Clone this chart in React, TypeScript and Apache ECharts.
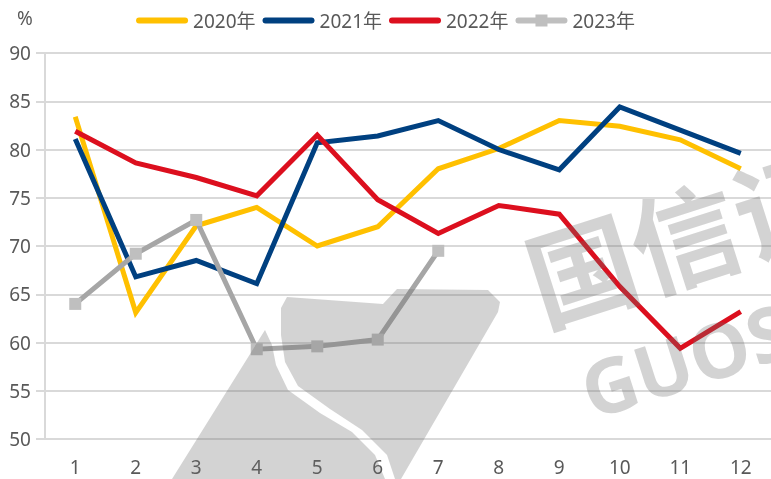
import React, { useEffect, useRef } from "react";
import * as echarts from "echarts";

const months = ["1", "2", "3", "4", "5", "6", "7", "8", "9", "10", "11", "12"];
const seriesNames = ["2020年", "2021年", "2022年", "2023年"];
const y2020 = [83.4, 63.1, 72.1, 74.0, 70.0, 72.0, 78.0, 80.1, 83.0, 82.4, 81.0, 78.0];
const y2021 = [81.1, 66.8, 68.5, 66.1, 80.7, 81.4, 83.0, 80.0, 77.9, 84.4, 82.0, 79.6];
const y2022 = [81.9, 78.6, 77.1, 75.2, 81.5, 74.8, 71.3, 74.2, 73.3, 65.8, 59.4, 63.2];
const y2023 = [64.0, 69.2, 72.7, 59.3, 59.6, 60.3, 69.5];
const colors = ["#FFC000", "#004080", "#DC0F1E", "#A6A6A6"];

const FONT = "'Noto Sans', 'Noto Sans CJK SC', sans-serif";
const WM = "rgba(110,110,110,0.3)";
const LINE_ICON = "path://M3,0h46a3,3 0 0 1 0,6h-46a3,3 0 0 1 0,-6z";
const MARK_ICON = "path://M3,3h46a3,3 0 0 1 0,6h-46a3,3 0 0 1 0,-6z M20,0h12v12h-12z";

export default function App() {
  const ref = useRef<HTMLDivElement>(null);
  useEffect(() => {
    if (!ref.current) return;
    const chart = echarts.init(ref.current, null, { renderer: "svg" });
    const data = [y2020, y2021, y2022, y2023];
    chart.setOption({
      animation: false,
      textStyle: { fontFamily: FONT },
      legend: {
        top: 6,
        left: "center",
        itemWidth: 52,
        itemHeight: 12,
        itemGap: 7,
        textStyle: { color: "#595959", fontSize: 19, fontFamily: FONT },
        data: seriesNames.map((name, i) => ({ name, icon: i === 3 ? MARK_ICON : LINE_ICON })),
      },
      grid: { left: 45, right: 0, top: 53, bottom: 40, containLabel: false },
      xAxis: {
        type: "category",
        data: months,
        boundaryGap: true,
        axisLine: { lineStyle: { color: "#D9D9D9", width: 2 } },
        axisTick: { show: false },
        axisLabel: { color: "#595959", fontSize: 19, margin: 18, fontFamily: FONT },
      },
      yAxis: {
        type: "value",
        min: 50,
        max: 90,
        interval: 5,
        axisLine: { show: true, lineStyle: { color: "#D9D9D9", width: 2 } },
        axisTick: { show: true, length: 9, lineStyle: { color: "#D9D9D9", width: 2 } },
        splitLine: { lineStyle: { color: "#D9D9D9", width: 2 } },
        axisLabel: { color: "#595959", fontSize: 19, margin: 14, fontFamily: FONT },
      },
      graphic: [
        { type: "text", left: 17, top: 8, style: { text: "%", fontSize: 19, fill: "#595959", fontFamily: FONT } },
        {
          type: "polygon",
          z: 100,
          shape: {
            points: [
              [265, 330], [272, 345], [276, 365], [288, 390], [320, 413], [352, 432], [375, 455], [385, 479], [172, 479],
            ],
          },
          style: { fill: WM },
        },
        {
          type: "polygon",
          z: 100,
          shape: {
            points: [
              [287, 297], [383, 304], [397, 289], [488, 290], [500, 302], [498, 312], [401, 479], [395, 479],
              [387, 455], [362, 430], [330, 409], [298, 386], [285, 362], [281, 335], [281, 308],
            ],
          },
          style: { fill: WM },
        },
        {
          type: "text",
          z: 100,
          x: 529,
          y: 282,
          rotation: 0.31,
          style: {
            text: "国信证券",
            fontSize: 108,
            fontWeight: "bold",
            fontFamily: "'Noto Sans CJK SC', sans-serif",
            fill: WM,
            verticalAlign: "middle",
            align: "left",
          },
        },
        {
          type: "text",
          z: 100,
          x: 583,
          y: 392,
          rotation: 0.31,
          style: {
            text: "GUOSEN",
            fontSize: 76,
            fontWeight: "bold",
            fontFamily: "'Open Sans', sans-serif",
            fill: WM,
            verticalAlign: "middle",
            align: "left",
          },
        },
      ],
      series: seriesNames.map((name, i) => ({
        name,
        type: "line",
        data: data[i],
        color: colors[i],
        symbol: i === 3 ? "rect" : "none",
        symbolSize: 12,
        showSymbol: i === 3,
        itemStyle: { color: i === 3 ? "#BFBFBF" : colors[i] },
        lineStyle: { color: colors[i], width: 5, join: "miter" },
        z: 2,
      })),
    });
    return () => chart.dispose();
  }, []);
  return <div ref={ref} style={{ position: "fixed", left: 0, top: 0, width: 771, height: 479 }} />;
}
